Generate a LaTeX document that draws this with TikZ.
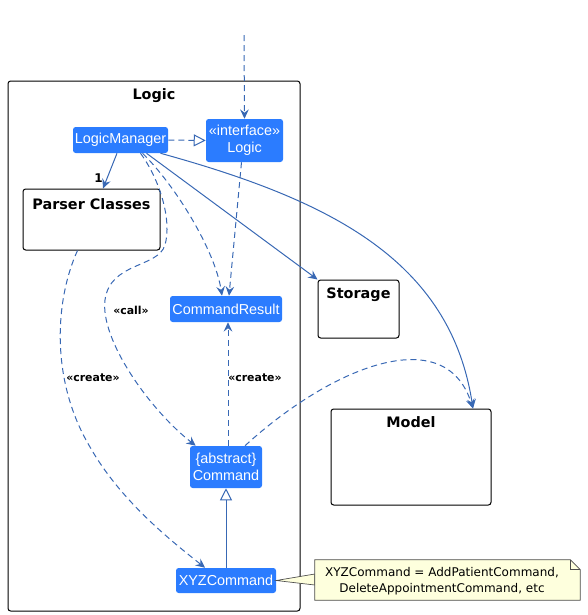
\documentclass[tikz,border=0pt]{standalone}
\usepackage{fontspec}
\setmainfont{Liberation Sans}
\newfontfamily\umlfont{DejaVu Sans}
\usetikzlibrary{arrows.meta,fit,calc}
\definecolor{clsblue}{RGB}{43,124,255}
\definecolor{umlline}{RGB}{56,104,180}
\definecolor{notebg}{RGB}{254,255,221}

\begin{document}
\begin{tikzpicture}[x=0.75pt,y=-0.75pt,
  cls/.style={fill=clsblue,rounded corners=2pt,inner sep=0pt,text=white,align=center,font=\fontsize{10.8}{13}\selectfont},
  pkg/.style={draw=black,rounded corners=2pt,inner sep=0pt,line width=0.75pt},
  pkgname/.style={font=\umlfont\bfseries\fontsize{10.8}{12}\selectfont,anchor=north,inner sep=0pt},
  stereo/.style={font=\umlfont\bfseries\fontsize{8.2}{10}\selectfont,inner sep=0pt},
  dep/.style={draw=umlline,line width=0.75pt,dash pattern=on 4.5pt off 3pt,-{Stealth[length=7pt,width=6.5pt,inset=2.5pt]}},
  assoc/.style={draw=umlline,line width=0.75pt,-{Stealth[length=7pt,width=6.5pt,inset=2.5pt]}},
  realize/.style={draw=umlline,line width=0.75pt,dash pattern=on 4.5pt off 3pt,-{Triangle[length=9pt,width=9pt,fill=white]}},
  extends/.style={draw=umlline,line width=0.75pt,-{Triangle[length=9pt,width=9pt,fill=white]}}]
  \useasboundingbox (0,0) rectangle (587,615);

  % packages
  \node[pkg,fit={(8,81) (300,611)}] (logic) {};
  \node[pkgname] (logicname) at ($(logic.north)+(0,8)$) {Logic};
  \node[pkg,fit={(23,189) (160,250)}] (parser) {};
  \node[pkgname] (parsername) at ($(parser.north)+(0,10)$) {Parser Classes};
  \node[pkg,fit={(318,280) (399,338)}] (storage) {};
  \node[pkgname] (storagename) at ($(storage.north)+(0,8)$) {Storage};
  \node[pkg,fit={(331,409) (491,505)}] (model) {};
  \node[pkgname] (modelname) at ($(model.north)+(0,8)$) {Model};

  % classes
  \node[cls,minimum width=71.25pt,minimum height=19.5pt] (lm) at (120.5,140) {LogicManager};
  \node[cls,minimum width=57.75pt,minimum height=32.25pt] (ilogic) at (244.5,140.5) {«interface»\\Logic};
  \node[cls,minimum width=84pt,minimum height=19.5pt] (cres) at (226,309) {CommandResult};
  \node[cls,minimum width=54pt,minimum height=31.5pt] (cmd) at (226,467) {\{abstract\}\\Command};
  \node[cls,minimum width=75pt,minimum height=18.75pt] (xyz) at (226,580.5) {XYZCommand};

  % note
  \node[inner sep=0pt,fit={(315,560) (580,600)}] (note) {};
  \draw[gray!60!black,line width=0.5pt,fill=notebg] (xyz.east) -- ($(note.west)+(0,-6)$) -- ($(note.west)+(0,5)$) -- cycle;
  \draw[gray!60!black,line width=0.5pt,fill=notebg] (note.north west) -- ($(note.north east)+(-10,0)$) -- ($(note.north east)+(0,10)$) -- (note.south east) -- (note.south west) -- cycle;
  \draw[gray!60!black,line width=0.5pt] ($(note.north east)+(-10,0)$) -- ($(note.north east)+(-10,10)$) -- ($(note.north east)+(0,10)$);
  \node[font=\umlfont\fontsize{9}{12}\selectfont,align=center,inner sep=0pt] (notetext) at (442,581) {XYZCommand = AddPatientCommand,\\DeleteAppointmentCommand, etc};

  % connectors
  \coordinate (api) at (244,35);
  \draw[dep] (api) -- (ilogic.north);
  \draw[realize] (lm.east) -- (ilogic.west);
  \draw[assoc] ($(lm.south)+(-3.5,0)$) -- ($(parser.north)+(11.5,0)$) node[stereo,font=\umlfont\bfseries\fontsize{9}{10}\selectfont,pos=0.7,left=3pt] (mult) {1};
  \draw[assoc] ($(lm.south)+(26,0)$) -- (storage.north west);
  \draw[assoc] ($(lm.south)+(40,0)$) .. controls (330,200) and (450,260) .. ($(model.north)+(62,0)$);
  \draw[dep] ($(lm.south)+(20,0)$) .. controls (160,180) and (172,220) .. (165,245)
    .. controls (158,268) and (110,262) .. (105,300)
    .. controls (100,340) and (150,410) .. ($(cmd.north west)+(6,0)$);
  \node[stereo] (calllbl) at (131,310) {«call»};
  \draw[dep] ($(lm.south)+(22,0)$) .. controls (175,185) and (215,250) .. ($(cres.north)+(-4,0)$);
  \draw[dep] ($(ilogic.south)+(-3,0)$) -- ($(cres.north)+(3,0)$);
  \draw[dep] ($(cmd.north)+(2,0)$) -- ($(cres.south)+(2,0)$);
  \node[stereo] (createlbl) at (255,378) {«create»};
  \draw[dep] ($(cmd.north)+(19,0)$) .. controls (330,368) and (445,320) .. ($(model.north)+(62,0)$);
  \draw[dep] ($(parser.south)+(-14,0)$) .. controls (55,300) and (50,380) .. (90,447)
    .. controls (120,500) and (170,540) .. ($(xyz.north)+(-21,0)$);
  \node[stereo] (parsercreate) at (93,378) {«create»};
  \draw[extends] (xyz.north) -- (cmd.south);
\end{tikzpicture}
\end{document}
